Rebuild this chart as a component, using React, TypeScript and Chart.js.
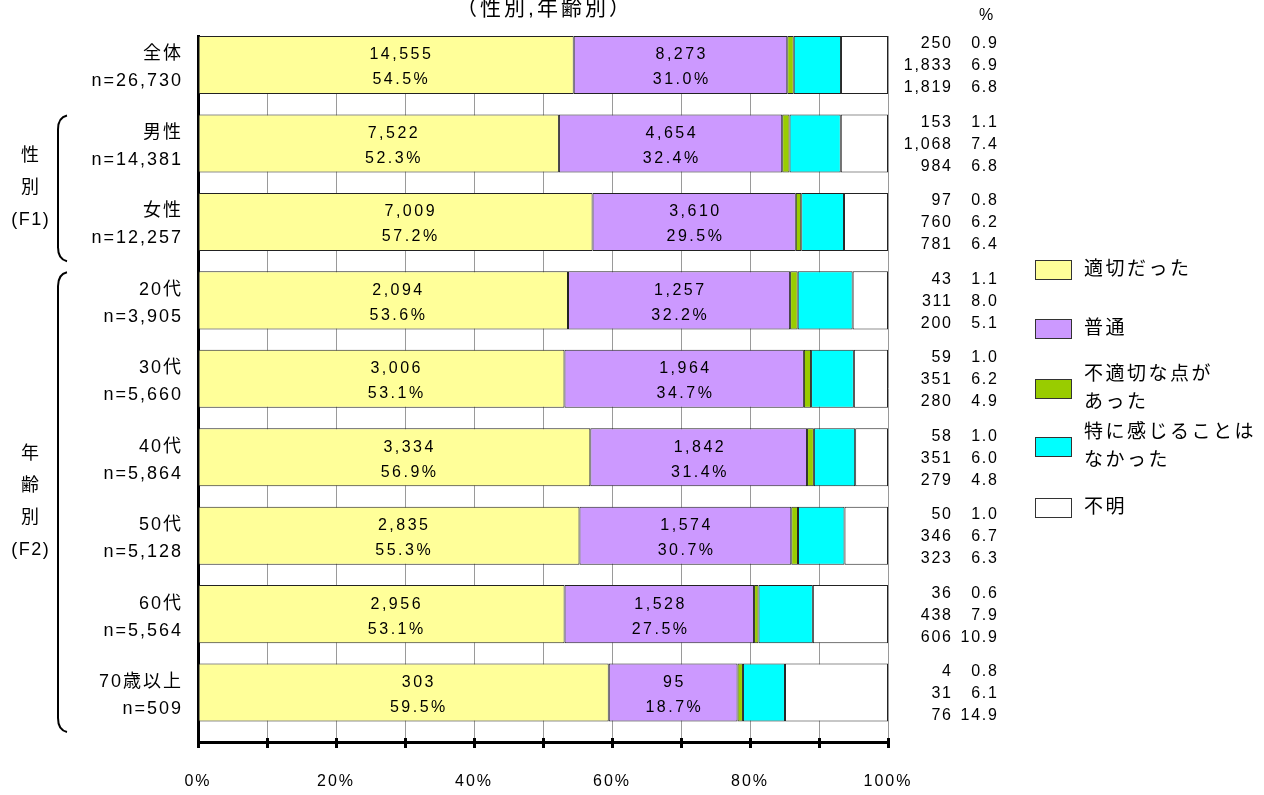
import React, { useEffect, useRef } from 'react';
import { Chart, registerables } from 'chart.js';

Chart.register(...registerables);

const FONT = "'Liberation Sans', Arial, 'Noto Sans CJK JP', sans-serif";

const chartTitle = '（性別,年齢別）';
const categories = ['全体', '男性', '女性', '20代', '30代', '40代', '50代', '60代', '70歳以上'];
const sampleSizes = ['n=26,730', 'n=14,381', 'n=12,257', 'n=3,905', 'n=5,660', 'n=5,864', 'n=5,128', 'n=5,564', 'n=509'];
const seriesNames = ['適切だった', '普通', '不適切な点が\nあった', '特に感じることは\nなかった', '不明'];
const seriesColors = ['#FFFF99', '#CC99FF', '#99CC00', '#00FFFF', '#FFFFFF'];

const countAppropriate = [14555, 7522, 7009, 2094, 3006, 3334, 2835, 2956, 303];
const countNormal = [8273, 4654, 3610, 1257, 1964, 1842, 1574, 1528, 95];
const countInappropriate = [250, 153, 97, 43, 59, 58, 50, 36, 4];
const countNothing = [1833, 1068, 760, 311, 351, 351, 346, 438, 31];
const countUnknown = [1819, 984, 781, 200, 280, 279, 323, 606, 76];

const pctAppropriate = [54.5, 52.3, 57.2, 53.6, 53.1, 56.9, 55.3, 53.1, 59.5];
const pctNormal = [31.0, 32.4, 29.5, 32.2, 34.7, 31.4, 30.7, 27.5, 18.7];
const pctInappropriate = [0.9, 1.1, 0.8, 1.1, 1.0, 1.0, 1.0, 0.6, 0.8];
const pctNothing = [6.9, 7.4, 6.2, 8.0, 6.2, 6.0, 6.7, 7.9, 6.1];
const pctUnknown = [6.8, 6.8, 6.4, 5.1, 4.9, 4.8, 6.3, 10.9, 14.9];

const labeledXTicks = [0, 20, 40, 60, 80, 100];

const groups = [
  { lines: ['性', '別', '(F1)'], first: 1, last: 2 },
  { lines: ['年', '齢', '別', '(F2)'], first: 3, last: 8 },
];

const allCounts = [countAppropriate, countNormal, countInappropriate, countNothing, countUnknown];
const allPcts = [pctAppropriate, pctNormal, pctInappropriate, pctNothing, pctUnknown];

// bar sits in the upper part of each category band
const BAR_POS = 0.37;

function drawText(ctx: CanvasRenderingContext2D, text: string, x: number, y: number, align: CanvasTextAlign, size: number, spacing: number) {
  ctx.save();
  ctx.font = `${size}px ${FONT}`;
  (ctx as any).letterSpacing = `${spacing}px`;
  ctx.fillStyle = '#000';
  ctx.textBaseline = 'middle';
  ctx.textAlign = align;
  const dx = align === 'center' ? spacing / 2 : align === 'right' ? spacing : 0;
  ctx.fillText(text, x + dx, y);
  ctx.restore();
}

const fmt = (n: number) => n.toLocaleString('en-US');

const extrasPlugin = {
  id: 'extras',
  beforeDraw(chart: any) {
    chart.ctx.letterSpacing = '2px';
  },
  afterDatasetsDraw(chart: any) {
    const ctx = chart.ctx as CanvasRenderingContext2D;
    [0, 1].forEach((di) => {
      const meta = chart.getDatasetMeta(di);
      meta.data.forEach((bar: any, i: number) => {
        const { x, y, base } = bar.getProps(['x', 'y', 'base'], true);
        const cx = (x + base) / 2 + (di === 0 ? 14 : 0);
        drawText(ctx, fmt(allCounts[di][i]), cx, y - 10, 'center', 16, 2.5);
        drawText(ctx, allPcts[di][i].toFixed(1) + '%', cx, y + 15, 'center', 16, 2.5);
      });
    });
  },
  afterDraw(chart: any) {
    const ctx = chart.ctx as CanvasRenderingContext2D;
    const area = chart.chartArea;
    const yScale = chart.scales.y;
    const xScale = chart.scales.x;

    // tick marks crossing the axis line
    ctx.save();
    ctx.strokeStyle = '#000';
    ctx.lineWidth = 3;
    xScale.ticks.forEach((t: any) => {
      const px = Math.round(xScale.getPixelForValue(t.value)) + 0.5;
      ctx.beginPath();
      ctx.moveTo(px, area.bottom - 4);
      ctx.lineTo(px, area.bottom + 2);
      ctx.stroke();
    });
    ctx.restore();

    // title
    drawText(ctx, chartTitle, (area.left + area.right) / 2, 9, 'center', 21, 3);
    // % header
    drawText(ctx, '%', area.right + 98, 16, 'center', 16, 1.5);

    // right-side numbers for the three small categories
    const meta = chart.getDatasetMeta(0);
    meta.data.forEach((bar: any, i: number) => {
      const { y } = bar.getProps(['y'], true);
      [2, 3, 4].forEach((di, k) => {
        const ly = y + 1 + (k - 1) * 22;
        drawText(ctx, fmt(allCounts[di][i]), area.right + 63, ly, 'right', 16, 1.8);
        drawText(ctx, allPcts[di][i].toFixed(1), area.right + 109, ly, 'right', 16, 1.8);
      });
    });

    // legend
    const legendX = 1035;
    const legendCenters = [270, 329, 389, 447, 508];
    seriesNames.forEach((name, i) => {
      const cy = legendCenters[i];
      ctx.save();
      ctx.fillStyle = seriesColors[i];
      ctx.fillRect(legendX, cy - 10, 37, 20);
      ctx.strokeStyle = '#333';
      ctx.lineWidth = 1;
      ctx.strokeRect(legendX + 0.5, cy - 9.5, 36, 19);
      ctx.restore();
      const lines = name.split('\n');
      lines.forEach((ln, j) => {
        const ly = cy + (j - (lines.length - 1) / 2) * 28;
        drawText(ctx, ln, legendX + 49, ly, 'left', 19, 2.5);
      });
    });

    // group brackets
    groups.forEach((g) => {
      const top = yScale.getPixelForValue(g.first) + 1;
      const bottom = yScale.getPixelForValue(g.last + 1) - 10;
      ctx.save();
      ctx.strokeStyle = '#000';
      ctx.lineWidth = 2;
      ctx.beginPath();
      ctx.moveTo(67, top);
      ctx.quadraticCurveTo(58, top + 2, 58, top + 14);
      ctx.lineTo(58, bottom - 14);
      ctx.quadraticCurveTo(58, bottom - 2, 67, bottom);
      ctx.stroke();
      ctx.restore();
      const mid = (top + bottom) / 2;
      g.lines.forEach((ln, j) => {
        const ly = mid + (j - (g.lines.length - 1) / 2) * 32;
        drawText(ctx, ln, 30, ly, 'center', 18, 1.5);
      });
    });
  },
};

export default function App() {
  const canvasRef = useRef<HTMLCanvasElement | null>(null);

  useEffect(() => {
    if (!canvasRef.current) return;
    Chart.defaults.color = '#000';
    Chart.defaults.font.family = FONT;

    const datasets = allCounts.map((counts, di) => ({
      label: seriesNames[di],
      data: counts.map((c, i) => {
        const total = allCounts.reduce((s, arr) => s + arr[i], 0);
        return { x: (c / total) * 100, y: i + BAR_POS };
      }),
      backgroundColor: seriesColors[di],
      borderColor: '#222',
      borderWidth: 1,
      borderSkipped: false,
      stack: 'all',
      categoryPercentage: 1,
      barPercentage: 0.74,
    }));

    const chart = new Chart(canvasRef.current, {
      type: 'bar',
      data: { datasets: datasets as any },
      options: {
        indexAxis: 'y',
        animation: false,
        responsive: false,
        events: [],
        layout: { padding: { top: 36, right: 376, bottom: 0, left: 0 } },
        plugins: {
          legend: { display: false },
          title: { display: false },
          tooltip: { enabled: false },
        },
        scales: {
          x: {
            type: 'linear',
            min: 0,
            max: 100,
            stacked: true,
            afterFit: (scale: any) => {
              scale.height = 53;
              scale.paddingLeft = 0;
              scale.paddingRight = 0;
            },
            ticks: {
              stepSize: 10,
              autoSkip: false,
              maxRotation: 0,
              padding: 24,
              color: '#000',
              font: { size: 16, family: FONT },
              callback: (v: any) => (labeledXTicks.includes(Number(v)) ? `${v}%` : ''),
            },
            grid: {
              color: '#9a9a9a',
              lineWidth: 1,
              tickColor: '#000',
              tickWidth: 3,
              tickLength: 6,
              drawTicks: true,
            },
            border: { display: true, color: '#000', width: 3 },
          },
          y: {
            type: 'linear',
            min: 0,
            max: categories.length,
            reverse: true,
            offset: false,
            afterFit: (scale: any) => {
              scale.width = 198;
              scale.paddingTop = 0;
              scale.paddingBottom = 0;
            },
            afterBuildTicks: (scale: any) => {
              scale.ticks = categories.map((_, i) => ({ value: i + BAR_POS }));
            },
            ticks: {
              autoSkip: false,
              padding: 15,
              labelOffset: 3,
              color: '#000',
              font: { size: 18, family: FONT, lineHeight: 1.5 },
              callback: (_v: any, index: number) => [categories[index], sampleSizes[index]],
            },
            grid: { display: false, drawTicks: false, offset: false },
            border: { display: true, color: '#000', width: 3 },
          },
        },
      } as any,
      plugins: [extrasPlugin],
    });
    return () => chart.destroy();
  }, []);

  return (
    <div style={{ position: 'absolute', left: 0, top: 0, width: 1264, height: 795, background: '#fff' }}>
      <canvas ref={canvasRef} width={1264} height={795} style={{ display: 'block' }} />
    </div>
  );
}
